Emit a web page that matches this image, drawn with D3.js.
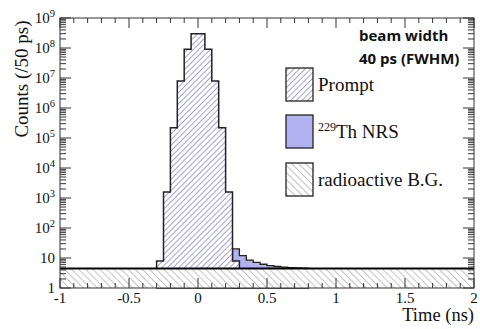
<!DOCTYPE html>
<html>
<head>
<meta charset="utf-8">
<script src="https://cdn.jsdelivr.net/npm/d3@7"></script>
<style>
  body { margin: 0; background: #fff; }
  text { font-family: "Liberation Serif", "DejaVu Serif", serif; fill: #111; }
</style>
</head>
<body>
<div id="my_dataviz"></div>
<script>
// histogram data, 50 ps bins
var binWidth = 0.05;
var promptStart = -0.3;
var promptCounts = [8, 1.6e3, 2.2e5, 8e6, 9e7, 3e8, 3e8, 9e7, 8e6, 2.2e5, 1.6e3, 8];
var nrsStart = 0.25;
var nrsCounts = [20, 12, 8.5, 7.2, 6.2, 5.6, 5.2, 5.0, 4.8, 4.7, 4.6];
var bgLevel = 4.5;

var xTicks = [-1, -0.5, 0, 0.5, 1, 1.5, 2];
var xTickLabels = ["-1", "-0.5", "0", "0.5", "1", "1.5", "2"];
var yDecades = [0, 1, 2, 3, 4, 5, 6, 7, 8, 9];
var legendLabels = ["Prompt", "229Th NRS", "radioactive B.G."];

var W = 480, H = 329;
var margin = {top: 18, right: 6, bottom: 41, left: 60},
    width = W - margin.left - margin.right,
    height = H - margin.top - margin.bottom;

var svg = d3.select("#my_dataviz").append("svg")
    .attr("width", W).attr("height", H);

var defs = svg.append("defs");
defs.append("pattern").attr("id", "hatchPrompt")
    .attr("patternUnits", "userSpaceOnUse")
    .attr("width", 4).attr("height", 4)
    .attr("patternTransform", "rotate(45)")
  .call(function(p) {
    p.append("rect").attr("width", 4).attr("height", 4).attr("fill", "#fff");
    p.append("line").attr("x1", 0).attr("y1", 0).attr("x2", 0).attr("y2", 4)
      .attr("stroke", "#6464c0").attr("stroke-width", 1.2);
  });
defs.append("pattern").attr("id", "hatchBg")
    .attr("patternUnits", "userSpaceOnUse")
    .attr("width", 5).attr("height", 5)
    .attr("patternTransform", "rotate(-45)")
  .call(function(p) {
    p.append("rect").attr("width", 5).attr("height", 5).attr("fill", "#fff");
    p.append("line").attr("x1", 0).attr("y1", 0).attr("x2", 0).attr("y2", 5)
      .attr("stroke", "#8a8a8a").attr("stroke-width", 1);
  });

var g = svg.append("g")
    .attr("transform", "translate(" + margin.left + "," + margin.top + ")");

var x = d3.scaleLinear().domain([-1, 2]).range([0, width]);
var y = d3.scaleLog().domain([1, 1e9]).range([height, 0]);

// closed step outline of a histogram, from the bottom of the axis
function histPath(start, counts) {
  var pts = [[x(start), y(1)]];
  counts.forEach(function(c, i) {
    pts.push([x(start + i * binWidth), y(c)]);
    pts.push([x(start + (i + 1) * binWidth), y(c)]);
  });
  pts.push([x(start + counts.length * binWidth), y(1)]);
  return d3.line()(pts) + "Z";
}

// NRS behind prompt
g.append("path").attr("d", histPath(nrsStart, nrsCounts))
    .attr("fill", "#b2b2f0").attr("stroke", "#222").attr("stroke-width", 1.3);
g.append("path").attr("d", histPath(promptStart, promptCounts))
    .attr("fill", "url(#hatchPrompt)").attr("stroke", "#222").attr("stroke-width", 1.5);

// radioactive background
g.append("rect")
    .attr("x", x(-1)).attr("y", y(bgLevel))
    .attr("width", x(2) - x(-1)).attr("height", y(1) - y(bgLevel))
    .attr("fill", "url(#hatchBg)");
g.append("line")
    .attr("x1", x(-1)).attr("x2", x(2)).attr("y1", y(bgLevel)).attr("y2", y(bgLevel))
    .attr("stroke", "#000").attr("stroke-width", 2);

// frame
g.append("rect").attr("width", width).attr("height", height)
    .attr("fill", "none").attr("stroke", "#333").attr("stroke-width", 1);

// y ticks (both sides, inward)
var yMajor = yDecades.map(function(d) { return Math.pow(10, d); });
var yMinor = [];
yDecades.slice(0, -1).forEach(function(d) {
  for (var k = 2; k <= 9; k++) yMinor.push(k * Math.pow(10, d));
});
var ticks = g.append("g").attr("stroke", "#333").attr("stroke-width", 1);
yMajor.forEach(function(v) {
  ticks.append("line").attr("x1", 0).attr("x2", 11).attr("y1", y(v)).attr("y2", y(v));
  ticks.append("line").attr("x1", width).attr("x2", width - 11).attr("y1", y(v)).attr("y2", y(v));
});
yMinor.forEach(function(v) {
  ticks.append("line").attr("x1", 0).attr("x2", 6).attr("y1", y(v)).attr("y2", y(v));
  ticks.append("line").attr("x1", width).attr("x2", width - 6).attr("y1", y(v)).attr("y2", y(v));
});

// x ticks (bottom and top, inward)
var xMinor = d3.range(-10, 21).map(function(i) { return i / 10; });
xMinor.forEach(function(v) {
  var major = xTicks.indexOf(v) >= 0;
  var len = major ? 10 : 5;
  ticks.append("line").attr("x1", x(v)).attr("x2", x(v)).attr("y1", height).attr("y2", height - len);
  ticks.append("line").attr("x1", x(v)).attr("x2", x(v)).attr("y1", 0).attr("y2", len);
});

// y tick labels
yDecades.forEach(function(d) {
  var t = g.append("text")
      .attr("x", -5).attr("y", y(Math.pow(10, d)) + 5)
      .attr("text-anchor", "end").style("font-size", "15px");
  if (d === 0) t.text("1");
  else if (d === 1) t.text("10");
  else {
    t.append("tspan").text("10");
    t.append("tspan").attr("dy", -6).style("font-size", "10.5px").text(d);
  }
});

// x tick labels
xTicks.forEach(function(v, i) {
  g.append("text")
      .attr("x", x(v)).attr("y", height + 15)
      .attr("text-anchor", "middle").style("font-size", "15px")
      .text(xTickLabels[i]);
});

// axis titles
svg.append("text")
    .attr("transform", "translate(28,79) rotate(-90)")
    .attr("text-anchor", "middle").style("font-size", "19px")
    .text("Counts (/50 ps)");
svg.append("text")
    .attr("x", margin.left + width).attr("y", 321)
    .attr("text-anchor", "end").style("font-size", "18.5px")
    .text("Time (ns)");

// annotation
var note = svg.append("text")
    .style("font-family", "'Open Sans', 'DejaVu Sans', sans-serif")
    .style("font-weight", "bold").style("font-size", "15px");
note.append("tspan").attr("x", 359).attr("y", 41).text("beam width");
note.append("tspan").attr("x", 359).attr("y", 64).text("40 ps (FWHM)");

// legend
var legendFills = ["url(#hatchPrompt)", "#b2b2f0", "url(#hatchBg)"];
var legendTop = [68, 115, 163];
legendLabels.forEach(function(lab, i) {
  svg.append("rect")
      .attr("x", 286).attr("y", legendTop[i]).attr("width", 27).attr("height", 33)
      .attr("fill", legendFills[i]).attr("stroke", "#222").attr("stroke-width", 1.3);
  var t = svg.append("text")
      .attr("x", 318).attr("y", legendTop[i] + 23)
      .style("font-size", "19px");
  if (i === 1) {
    t.append("tspan").style("font-size", "12px").attr("dy", -7).text("229");
    t.append("tspan").attr("dy", 7).text("Th NRS");
  } else {
    t.text(lab);
  }
});
</script>
</body>
</html>
